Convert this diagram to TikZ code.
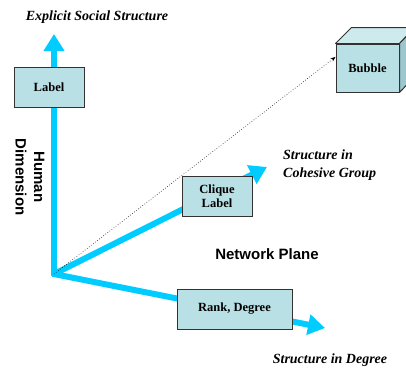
\documentclass[tikz,border=0pt]{standalone}
\usepackage{fontspec}
\setmainfont{Liberation Serif}
\newfontfamily\arialfont{Liberation Sans}
\usetikzlibrary{arrows.meta,calc}
\definecolor{axiscol}{RGB}{0,204,255}
\definecolor{boxfill}{RGB}{185,224,228}
\definecolor{boxtop}{RGB}{205,234,237}
\definecolor{boxside}{RGB}{155,200,205}
\definecolor{boxline}{RGB}{50,50,50}
\tikzset{
  axisarrow/.style={draw=axiscol, line width=6pt, line cap=round,
    -{Triangle[width=20pt,length=17pt]}},
  infobox/.style={draw=boxline, fill=boxfill, line width=1pt, inner sep=0pt,
    minimum height=40pt, align=center, font=\fontsize{12.5}{14.5}\selectfont\bfseries},
  axislabel/.style={font=\fontsize{14}{18}\selectfont\bfseries\itshape, inner sep=0pt},
  sanslabel/.style={font=\fontsize{15}{18.5}\selectfont\arialfont\bfseries, inner sep=0pt},
}
\begin{document}
\begin{tikzpicture}[x=1pt,y=-1pt]
\useasboundingbox (0,0) rectangle (406,367);
\coordinate (O) at (54,274);
\coordinate (tipV) at (54,34);
\coordinate (tipC) at (267,167);
\coordinate (tipR) at (325,328);

\draw[axisarrow] (O) -- (tipV);
\draw[axisarrow] (O) -- (tipC);
\draw[axisarrow] (O) -- (tipR);

\node[infobox, minimum width=70pt] (label) at (49,87) {Label};
\node[infobox, minimum width=70pt] (clique) at (217,196) {Clique\\Label};
\node[infobox, minimum width=115pt] (rank) at (234.5,309) {Rank, Degree};

% cube
\node[draw=boxline, fill=boxfill, line width=1pt, minimum width=63pt, minimum height=48pt,
  inner sep=0pt, font=\fontsize{12.5}{14.5}\selectfont\bfseries] (bubble) at (367.5,68) {Bubble};
\draw[draw=boxline, fill=boxtop, line width=1pt, line join=round]
  (bubble.north west) -- ++(16,-16) -- ++(63,0) -- (bubble.north east) -- cycle;
\draw[draw=boxline, fill=boxside, line width=1pt, line join=round]
  (bubble.north east) -- ++(16,-16) -- ++(0,48) -- (bubble.south east) -- cycle;

\draw[dotted, line width=0.6pt, -{Stealth[length=5pt,width=4pt]}] (O) -- (bubble.161);

\node[axislabel, anchor=base] (ess) at (97,20) {Explicit Social Structure};
\node[axislabel, anchor=north west, align=left] (scg) at (283,150) {Structure in\\Cohesive Group};
\node[axislabel, anchor=base] (sid) at (330,363) {Structure in Degree};
\node[sanslabel, anchor=base] (np) at (267,259) {Network Plane};
\node[sanslabel, rotate=-90, align=center] (hd) at (30,177) {Human\\Dimension};
\end{tikzpicture}
\end{document}
